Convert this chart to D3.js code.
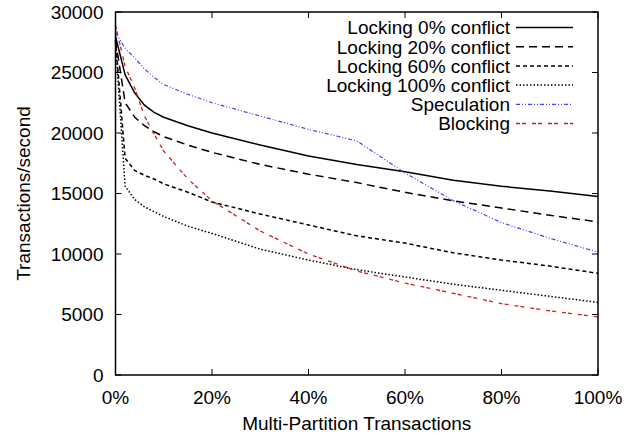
<!DOCTYPE html>
<html>
<head>
<meta charset="utf-8">
<style>
  body { margin: 0; background: #fff; }
  text { font-family: "Liberation Sans", Arial, sans-serif; }
</style>
<script src="https://cdn.jsdelivr.net/npm/d3@7"></script>
</head>
<body>
<script>

// data ////////////////////////////////////////////
var pct = [0, 2, 4, 6, 8, 10, 15, 20, 30, 40, 50, 60, 70, 80, 90, 100];

var lock0   = [28000, 24800, 23300, 22300, 21700, 21300, 20600, 20000, 19000, 18100, 17400, 16800, 16100, 15600, 15200, 14750];
var lock20  = [27700, 22500, 21300, 20600, 20100, 19700, 19000, 18400, 17400, 16600, 15900, 15100, 14400, 13800, 13200, 12650];
var lock60  = [27700, 17900, 16900, 16500, 16200, 15800, 15100, 14300, 13300, 12400, 11500, 10900, 10100,  9500,  9000,  8400];
var lock100 = [27500, 15600, 14500, 13900, 13500, 13100, 12300, 11700, 10400,  9500,  8700,  8100,  7500,  7000,  6500,  6000];
var spec    = [28300, 27000, 26200, 25300, 24600, 24000, 23200, 22500, 21400, 20300, 19350, 16700, 14400, 12600, 11300, 10150];
var block   = [28900, 25500, 23700, 21400, 19900, 18500, 16200, 14400, 11900, 10000,  8600,  7600,  6750,  5900,  5300,  4800];

var seriesNames = ['Locking 0% conflict', 'Locking 20% conflict', 'Locking 60% conflict',
                   'Locking 100% conflict', 'Speculation', 'Blocking'];
var seriesValues = [lock0, lock20, lock60, lock100, spec, block];

var xTicks = [0, 20, 40, 60, 80, 100];
var yTicks = [0, 5000, 10000, 15000, 20000, 25000, 30000];

// styles per series
var styles = [
  {color: '#000', width: 1.5, dash: null},
  {color: '#000', width: 1.5, dash: '8,5'},
  {color: '#000', width: 1.5, dash: '4,3'},
  {color: '#000', width: 1.5, dash: '1.5,2'},
  {color: '#3f3fff', width: 1.2, dash: '4,2,1,2,1,2'},
  {color: '#cc2020', width: 1.3, dash: '4,2,4,6'},
];

// layout ///////////////////////////////////////////////////////////////
var W = 634, H = 437;
var m = {left: 115.5, right: 598, top: 12, bottom: 375};
var fs = 19;

var svg = d3.select('body').append('svg')
  .attr('width', W).attr('height', H);

var x = d3.scaleLinear().domain([0, 100]).range([m.left, m.right]);
var y = d3.scaleLinear().domain([0, 30000]).range([m.bottom, m.top]);

// ticks (inward, mirrored)
var tl = 6;
var ticks = svg.append('g').attr('stroke', '#000').attr('stroke-width', 1);
xTicks.forEach(function(t) {
  ticks.append('line').attr('x1', x(t)).attr('x2', x(t)).attr('y1', m.bottom).attr('y2', m.bottom - tl);
  ticks.append('line').attr('x1', x(t)).attr('x2', x(t)).attr('y1', m.top).attr('y2', m.top + tl);
});
yTicks.forEach(function(t) {
  ticks.append('line').attr('x1', m.left).attr('x2', m.left + tl).attr('y1', y(t)).attr('y2', y(t));
  ticks.append('line').attr('x1', m.right).attr('x2', m.right - tl).attr('y1', y(t)).attr('y2', y(t));
});

// tick labels
svg.append('g').selectAll('text').data(yTicks).join('text')
  .attr('x', m.left - 12).attr('y', function(d) { return y(d); })
  .attr('dy', '0.36em')
  .attr('text-anchor', 'end')
  .attr('font-size', fs)
  .text(function(d) { return d; });

svg.append('g').selectAll('text').data(xTicks).join('text')
  .attr('x', function(d) { return x(d); }).attr('y', m.bottom + 29)
  .attr('text-anchor', 'middle')
  .attr('font-size', fs)
  .text(function(d) { return d + '%'; });

// axis titles
svg.append('text')
  .attr('x', (m.left + m.right) / 2).attr('y', m.bottom + 55)
  .attr('text-anchor', 'middle')
  .attr('font-size', fs)
  .text('Multi-Partition Transactions');

svg.append('text')
  .attr('transform', 'translate(30,' + ((m.top + m.bottom) / 2) + ') rotate(-90)')
  .attr('text-anchor', 'middle')
  .attr('font-size', fs)
  .text('Transactions/second');

// lines
var line = d3.line()
  .x(function(d, i) { return x(pct[i]); })
  .y(function(d) { return y(d); });

var plot = svg.append('g');
seriesValues.forEach(function(vals, i) {
  plot.append('path')
    .attr('d', line(vals))
    .attr('fill', 'none')
    .attr('stroke', styles[i].color)
    .attr('stroke-width', styles[i].width)
    .attr('stroke-dasharray', styles[i].dash);
});

// legend
var leg = svg.append('g');
seriesNames.forEach(function(name, i) {
  var ly = 27.5 + i * 19.2;
  leg.append('text')
    .attr('x', 510).attr('y', ly)
    .attr('dy', '0.36em')
    .attr('text-anchor', 'end')
    .attr('font-size', fs)
    .text(name);
  leg.append('line')
    .attr('x1', 516).attr('x2', 573)
    .attr('y1', ly).attr('y2', ly)
    .attr('stroke', styles[i].color)
    .attr('stroke-width', styles[i].width)
    .attr('stroke-dasharray', styles[i].dash);
});

// frame
svg.append('rect')
  .attr('x', m.left).attr('y', m.top)
  .attr('width', m.right - m.left).attr('height', m.bottom - m.top)
  .attr('fill', 'none').attr('stroke', '#000').attr('stroke-width', 1.5);

</script>
</body>
</html>
